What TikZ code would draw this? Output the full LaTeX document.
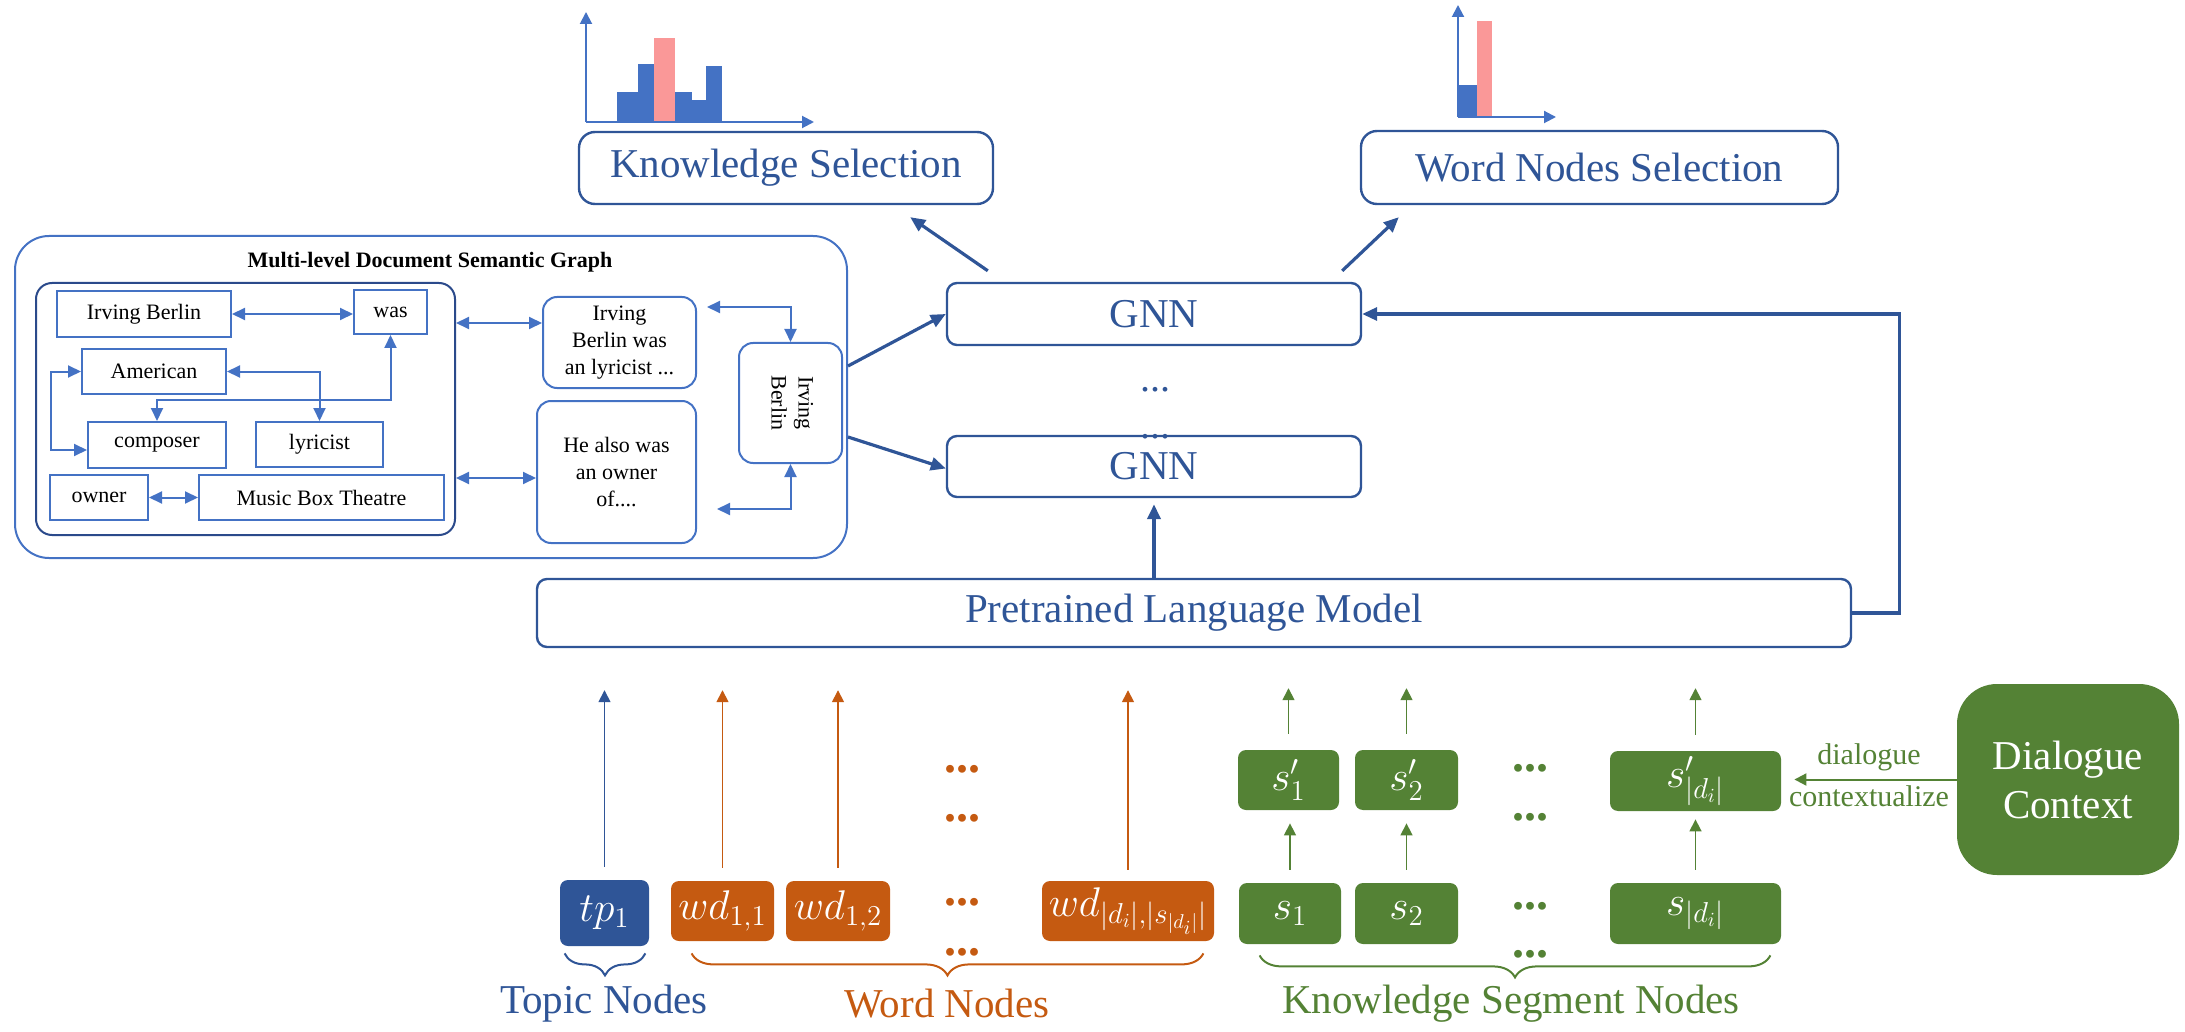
\documentclass[tikz,border=0pt]{standalone}
\usepackage{fontspec}
\setmainfont{Liberation Serif}
\usetikzlibrary{arrows.meta,calc,decorations.pathreplacing}

\definecolor{dblue}{HTML}{2F5597}
\definecolor{mblue}{HTML}{4472C4}
\definecolor{navy}{HTML}{2B4A8B}
\definecolor{orng}{HTML}{C55A11}
\definecolor{grn}{HTML}{548235}
\definecolor{barpink}{HTML}{FA9898}

% box node given by its corners: name, x1, y1, x2, y2, style, text
\newcommand\bx[7]{%
  \node[#6, inner sep=0pt, minimum width={(#4-#2)*0.5pt}, minimum height={(#5-#3)*0.5pt}]
    (#1) at ({(#2+#4)/2},{(#3+#5)/2}) {#7};}

\tikzset{
  gnode/.style={draw=mblue, line width=1pt, text=black, font=\fontsize{11}{13.5}\selectfont},
  para/.style={gnode, rounded corners=7pt, align=center},
  bigbox/.style={draw=dblue, line width=1.2pt, rounded corners=5pt, text=dblue,
    font=\fontsize{20.5}{24}\selectfont},
  tok/.style={rounded corners=4pt, text=white, font=\fontsize{20}{24}\selectfont},
  dbl/.style={{Triangle[length=6.5pt,width=6pt]}-{Triangle[length=6.5pt,width=6pt]},
    mblue, line width=1pt},
  thk/.style={-{Triangle[length=7.5pt,width=6.5pt]}, dblue, line width=1.6pt},
  uparrow/.style={-{Triangle[length=6pt,width=6pt]}, line width=0.75pt},
  axis/.style={-{Triangle[length=6pt,width=6pt]}, mblue, line width=1pt},
  bdots/.style={inner sep=0pt, font=\fontsize{24}{24}\selectfont\bfseries},
  gdots/.style={inner sep=0pt, text=dblue, font=\fontsize{20}{24}\selectfont},
  brc/.style={decorate, decoration={brace, mirror, amplitude=11pt}, line width=1pt},
  lbl/.style={inner sep=0pt, font=\fontsize{20.5}{24}\selectfont},
}

\begin{document}
\begin{tikzpicture}[x=0.5pt,y=-0.5pt]
\useasboundingbox (0,0) rectangle (2185,1032);

% ---------- score histograms ----------
\fill[mblue] (617,122) rectangle (638,92);
\fill[mblue] (638,122) rectangle (654,64);
\fill[barpink] (654,122) rectangle (675,38);
\fill[mblue] (675,122) rectangle (692,92);
\fill[mblue] (692,122) rectangle (706,100);
\fill[mblue] (706,122) rectangle (722,66);
\draw[axis] (586,122) -- (586,12);
\draw[axis] (586,122) -- (814,122);

\fill[mblue] (1458,117) rectangle (1477,85);
\fill[barpink] (1477,117) rectangle (1492,21);
\draw[axis] (1458,117) -- (1458,5);
\draw[axis] (1458,117) -- (1556,117);

% ---------- selection heads ----------
\bx{ks}{579}{132}{993}{204}{bigbox, rounded corners=8pt}{Knowledge Selection}
\bx{wns}{1361}{131}{1838}{204}{bigbox, rounded corners=8pt}{Word Nodes Selection}

% ---------- GNN stack and language model ----------
\node[gdots] (gd1) at (1155,390) {...};
\node[gdots] (gd2) at (1155,437) {...};
\bx{gnn1}{947}{283}{1361}{345}{bigbox}{GNN}
\bx{gnn2}{947}{436}{1361}{497}{bigbox}{GNN}
\bx{plm}{537}{579}{1851}{647}{bigbox}{Pretrained Language Model}

\draw[thk] ($(gnn1.north west)+(42,-11)$) -- ($(ks.south east)+(-84,12)$);
\draw[thk] ($(gnn1.north east)+(-20,-11)$) -- ($(wns.south west)+(39,12)$);
\draw[thk, line width=2pt, shorten >=3pt] (gnn2.south |- plm.north) -- (gnn2.south);
\draw[thk] (plm.east) -- ++(47,0) |- (gnn1.east);

% ---------- multi-level document semantic graph ----------
\bx{outer}{15}{236}{847}{558}{draw=mblue, line width=1pt, rounded corners=17pt}{}
\node[font=\bfseries\fontsize{11}{13}\selectfont] (title) at (430,262) {Multi-level Document Semantic Graph};
\bx{inner}{36}{283}{455}{535}{draw=navy, line width=1pt, rounded corners=8pt}{}

\bx{ib}{57}{291}{231}{337}{gnode}{Irving Berlin}
\bx{was}{354}{290}{427}{334}{gnode}{was}
\bx{am}{82}{349}{226}{394}{gnode}{American}
\bx{comp}{88}{422}{226}{468}{gnode}{composer}
\bx{lyr}{256}{422}{383}{467}{gnode}{lyricist}
\bx{own}{50}{475}{148}{520}{gnode}{owner}
\bx{mbt}{199}{475}{444}{520}{gnode}{Music Box Theatre}

\bx{p1}{543}{297}{696}{388}{para}{Irving\\Berlin was\\an lyricist ...}
\bx{p2}{537}{401}{696}{543}{para}{He also was\\an owner\\of....}
\bx{rot}{739}{343}{842}{463}{para}{\rotatebox{-90}{\begin{tabular}{@{}c@{}}Irving\\Berlin\end{tabular}}}

\draw[dbl] (ib.east) -- (was.west |- ib.east);
\draw[dbl] (was.south) |- ($(comp.north)+(0,-21)$) -- (comp.north);
\draw[dbl] (am.east) -| (lyr.north);
\draw[dbl] (am.west) -- ++(-30,0) |- ($(comp.west)+(0,5)$);
\draw[dbl] (own.east) -- (mbt.west);
\draw[dbl] (inner.east |- 0,323) -- (p1.west |- 0,323);
\draw[dbl] (inner.east |- 0,478) -- (p2.west |- 0,478);
\draw[dbl, shorten <=5pt] (p1.east |- 0,307) -| (rot.north);
\draw[dbl, shorten <=10pt] (p2.east |- 0,509) -| (rot.south);

\draw[thk] (outer.east |- 0,366) -- (gnn1.west);
\draw[thk] (outer.east |- 0,437) -- ($(gnn2.west)+(0,2)$);

% ---------- input nodes ----------
\bx{tp}{560}{880}{649}{946}{tok, fill=dblue}{$tp_1$}
\bx{wa}{671}{881}{774}{941}{tok, fill=orng}{$wd_{1,1}$}
\bx{wb}{786}{881}{890}{941}{tok, fill=orng}{$wd_{1,2}$}
\bx{wn}{1042}{881}{1214}{941}{tok, fill=orng}{$wd_{|d_i|,|s_{|d_i|}|}$}

\bx{sa}{1239}{883}{1341}{944}{tok, fill=grn}{$s_1$}
\bx{sb}{1355}{883}{1458}{944}{tok, fill=grn}{$s_2$}
\bx{sn}{1610}{883}{1781}{944}{tok, fill=grn}{$s_{|d_i|}$}
\bx{spa}{1238}{750}{1339}{810}{tok, fill=grn}{$s'_1$}
\bx{spb}{1355}{750}{1458}{810}{tok, fill=grn}{$s'_2$}
\bx{spn}{1610}{751}{1781}{811}{tok, fill=grn}{$s'_{|d_i|}$}

\bx{dc}{1957}{684}{2179}{875}{tok, fill=grn, rounded corners=20pt, align=center,
  font=\fontsize{20.5}{24.5}\selectfont}{Dialogue\\Context}

\node[bdots, text=orng] (od1) at (962,769) {...};
\node[bdots, text=orng] (od2) at (962,818) {...};
\node[bdots, text=orng] (od3) at (962,902) {...};
\node[bdots, text=orng] (od4) at (962,952) {...};
\node[bdots, text=grn] (gd3) at (1530,768) {...};
\node[bdots, text=grn] (gd4) at (1530,817) {...};
\node[bdots, text=grn] (gd5) at (1530,906) {...};
\node[bdots, text=grn] (gd6) at (1530,954) {...};

\draw[uparrow, dblue, shorten <=6.5pt, shorten >=21pt] (tp.north) -- (tp.north |- plm.south);
\draw[uparrow, orng, shorten <=6.5pt, shorten >=21pt] (wa.north) -- (wa.north |- plm.south);
\draw[uparrow, orng, shorten <=6.5pt, shorten >=21pt] (wb.north) -- (wb.north |- plm.south);
\draw[uparrow, orng, shorten <=5.5pt, shorten >=21pt] (wn.north) -- (wn.north |- plm.south);

\draw[uparrow, grn, shorten <=6.5pt, shorten >=6.5pt] (sa.north) -- (spa.south -| sa.north);
\draw[uparrow, grn, shorten <=6.5pt, shorten >=6.5pt] (sb.north) -- (spb.south -| sb.north);
\draw[uparrow, grn, shorten <=6.5pt, shorten >=4pt] (sn.north) -- (spn.south -| sn.north);
\draw[uparrow, grn, shorten <=8pt, shorten >=20pt] (spa.north) -- (spa.north |- plm.south);
\draw[uparrow, grn, shorten <=8pt, shorten >=20pt] (spb.north) -- (spb.north |- plm.south);
\draw[uparrow, grn, shorten <=8pt, shorten >=20pt] (spn.north) -- (spn.north |- plm.south);

\draw[uparrow, grn, line width=1pt, shorten >=6.5pt] (dc.west) -- (spn.east |- dc.west)
  node[midway, yshift=11pt, text=grn, font=\fontsize{15}{18}\selectfont] {dialogue}
  node[midway, yshift=-8.5pt, text=grn, font=\fontsize{15}{18}\selectfont] {contextualize};

% ---------- group braces and captions ----------
\draw[brc, dblue] ($(tp.south west)+(5,7)$) -- ($(tp.south east)+(-4,7)$);
\draw[brc, orng] ($(wa.south west)+(21,12)$) -- ($(wn.south east)+(-11,12)$);
\draw[brc, grn] ($(sa.south west)+(21,11)$) -- ($(sn.south east)+(-11,11)$);

\node[lbl, text=dblue] (tpl) at (604,1004) {Topic Nodes};
\node[lbl, text=orng] (wdl) at (947,1004) {Word Nodes};
\node[lbl, text=grn] (ksl) at (1511,1004) {Knowledge Segment Nodes};
\end{tikzpicture}
\end{document}
